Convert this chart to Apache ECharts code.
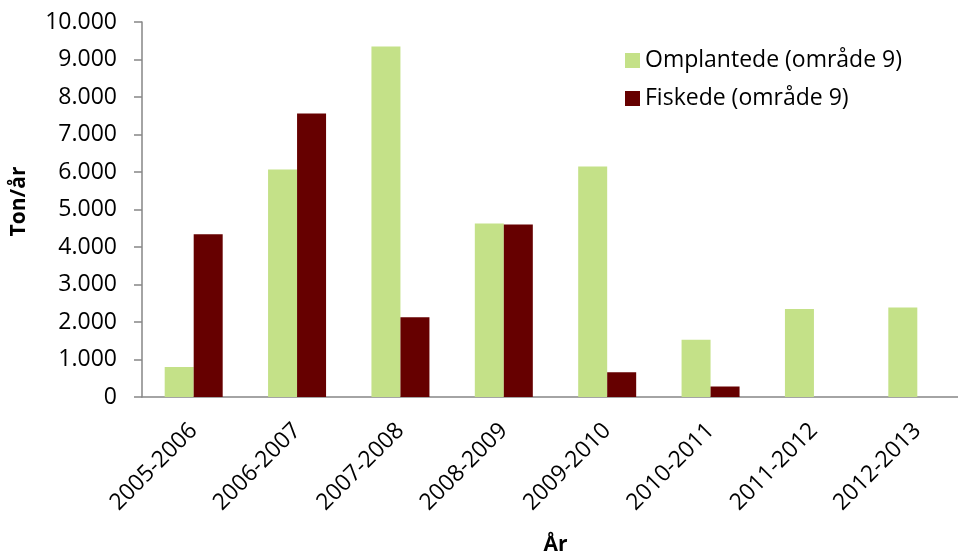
<!DOCTYPE html>
<html>
<head>
<meta charset="utf-8">
<script src="https://cdn.jsdelivr.net/npm/echarts@6/dist/echarts.min.js"></script>
<style>
html, body { margin: 0; padding: 0; background: #fff; }
#chart { width: 958px; height: 553px; }
</style>
</head>
<body>
<div id="chart"></div>
<script>
// kategorier (år)
var years = ["2005-2006", "2006-2007", "2007-2008", "2008-2009", "2009-2010", "2010-2011", "2011-2012", "2012-2013"];
// omplantede, ton/år
var omplantede = [800, 6070, 9350, 4630, 6150, 1530, 2345, 2390];
// fiskede, ton/år
var fiskede = [4340, 7560, 2130, 4600, 660, 280, 0, 0];
var yTicks = [0, 10000, 1000]; // min, max, interval

// tusindtalsseparator med punktum
function fmt(v) {
	return String(v).replace(/\B(?=(\d{3})+(?!\d))/g, ".");
}

var chart = echarts.init(document.getElementById("chart"));
var font = "'Open Sans', 'Liberation Sans', sans-serif";
var axisGrey = "#868686";
var option = {
	animation: false,
	textStyle: { fontFamily: font },
	grid: {
		left: 142,
		width: 827,
		top: 22,
		height: 375,
		containLabel: false,
		outerBoundsMode: "none"
	},
	legend: {
		orient: "vertical",
		left: 620,
		top: 44,
		itemWidth: 15,
		itemHeight: 15,
		itemGap: 15,
		icon: "rect",
		textStyle: { fontSize: 23, color: "#000", fontFamily: font },
		data: ["Omplantede (område 9)", "Fiskede (område 9)"]
	},
	xAxis: {
		type: "category",
		data: years,
		name: "År",
		nameLocation: "middle",
		nameGap: 138,
		nameTextStyle: { fontSize: 21, fontWeight: "bold", color: "#000" },
		axisLine: { lineStyle: { color: axisGrey, width: 1.5 } },
		axisTick: { length: 6, lineStyle: { color: axisGrey, width: 1.5 } },
		axisLabel: { rotate: 45, fontSize: 23, color: "#000", margin: 30 }
	},
	yAxis: {
		type: "value",
		min: yTicks[0],
		max: yTicks[1],
		interval: yTicks[2],
		name: "Ton/år",
		nameLocation: "middle",
		nameGap: 112,
		nameTextStyle: { fontSize: 21, fontWeight: "bold", color: "#000", padding: [0, 0, 0, 16] },
		splitLine: { show: false },
		axisLine: { show: true, lineStyle: { color: axisGrey, width: 1.5 } },
		axisTick: { show: true, length: 8, lineStyle: { color: axisGrey, width: 1.5 } },
		axisLabel: { fontSize: 23, color: "#000", margin: 25, formatter: fmt }
	},
	series: [{
			name: "Omplantede (område 9)",
			type: "bar",
			data: omplantede,
			barWidth: 29,
			barGap: "0%",
			itemStyle: { color: "#C4E188" }
		}, {
			name: "Fiskede (område 9)",
			type: "bar",
			data: fiskede,
			barWidth: 29,
			barGap: "0%",
			itemStyle: { color: "#660000" }
		}
	]
};
chart.setOption(option);
</script>
</body>
</html>
